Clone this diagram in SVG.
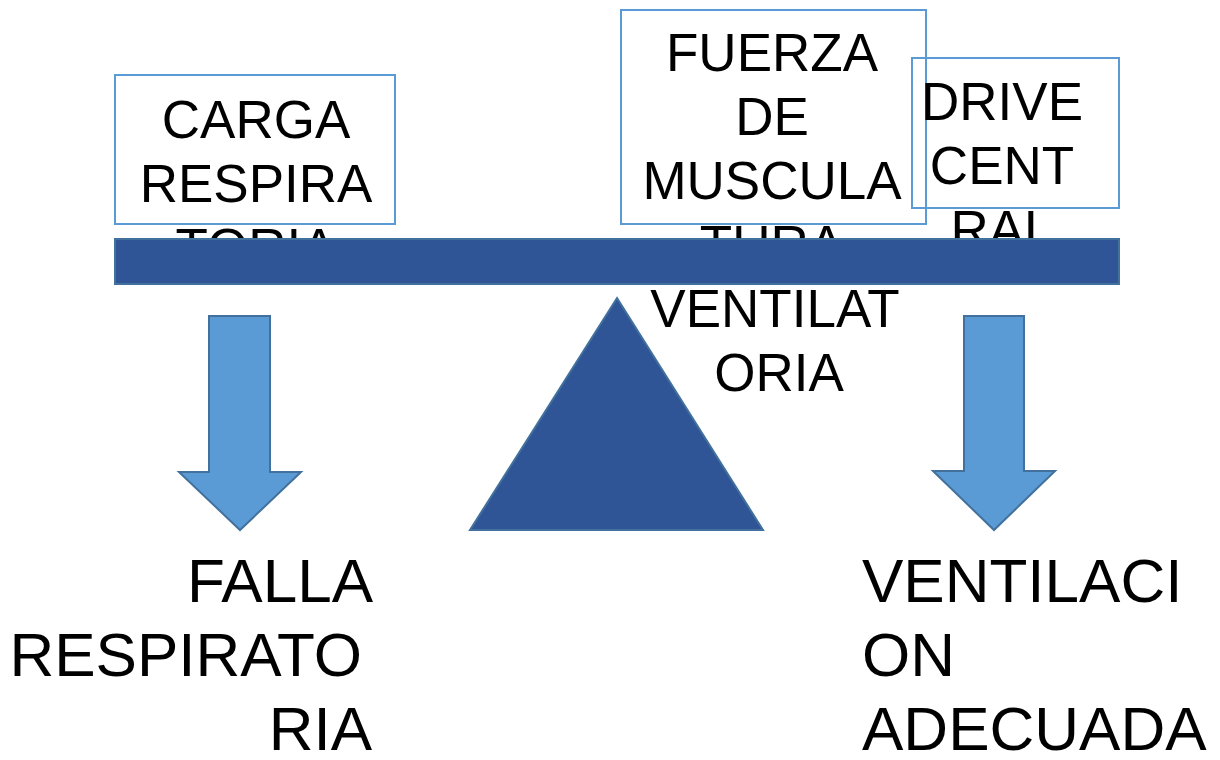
<svg xmlns="http://www.w3.org/2000/svg" width="1220" height="760" viewBox="0 0 1220 760">
  <style>
    .box { fill: #ffffff; stroke: #5B9BD5; stroke-width: 2; }
    .box-open { fill: none; stroke: #5B9BD5; stroke-width: 2; }
    .dark { fill: #2F5597; stroke: #41719C; stroke-width: 2; }
    .arrow { fill: #5B9BD5; stroke: #41719C; stroke-width: 2; stroke-linejoin: miter; }
    .lbl { font-family: "Liberation Sans", Arial, sans-serif; font-size: 53px; fill: #000000; text-anchor: middle; }
    .big { font-family: "Liberation Sans", Arial, sans-serif; font-size: 62px; fill: #000000; }
    .end { text-anchor: end; }
  </style>
  <rect width="1220" height="760" fill="#ffffff"/>

  <!-- load box -->
  <g id="carga">
    <rect class="box" x="115" y="75" width="280" height="149"/>
    <text class="lbl" x="256" y="138">CARGA</text>
    <text class="lbl" x="256" y="202">RESPIRA</text>
    <text class="lbl" x="256" y="266">TORIA</text>
  </g>

  <!-- muscle strength box -->
  <g id="fuerza">
    <rect class="box" x="621" y="10" width="305" height="214"/>
    <text class="lbl" x="772" y="71">FUERZA</text>
    <text class="lbl" x="772" y="135">DE</text>
    <text class="lbl" x="772" y="199">MUSCULA</text>
    <text class="lbl" x="772" y="263">TURA</text>
    <text class="lbl" x="775" y="327">VENTILAT</text>
    <text class="lbl" x="779" y="391">ORIA</text>
  </g>

  <!-- central drive box -->
  <g id="drive">
    <rect class="box-open" x="912" y="58" width="207" height="150"/>
    <text class="lbl" x="1002" y="120">DRIVE</text>
    <text class="lbl" x="1002" y="184">CENT</text>
    <text class="lbl" x="1002" y="248">RAL</text>
  </g>

  <!-- balance beam and fulcrum -->
  <g id="beam">
    <rect class="dark" x="115" y="239" width="1004" height="45"/>
  </g>
  <g id="fulcrum">
    <polygon class="dark" points="617,298 763,530 470,530"/>
  </g>

  <!-- outcome arrows -->
  <g id="connectors">
    <polygon class="arrow" points="209,316 270,316 270,472 301,472 240,530 179,472 209,472"/>
    <polygon class="arrow" points="964,316 1024,316 1024,471 1055,471 994,530 933,471 964,471"/>
  </g>

  <!-- outcomes -->
  <g id="falla">
    <text class="big end" x="373" y="602">FALLA</text>
    <text class="big end" x="362" y="676">RESPIRATO</text>
    <text class="big end" x="372" y="750">RIA</text>
  </g>
  <g id="ventilacion">
    <text class="big" x="862" y="602">VENTILACI</text>
    <text class="big" x="862" y="676">ON</text>
    <text class="big" x="862" y="750">ADECUADA</text>
  </g>
</svg>
